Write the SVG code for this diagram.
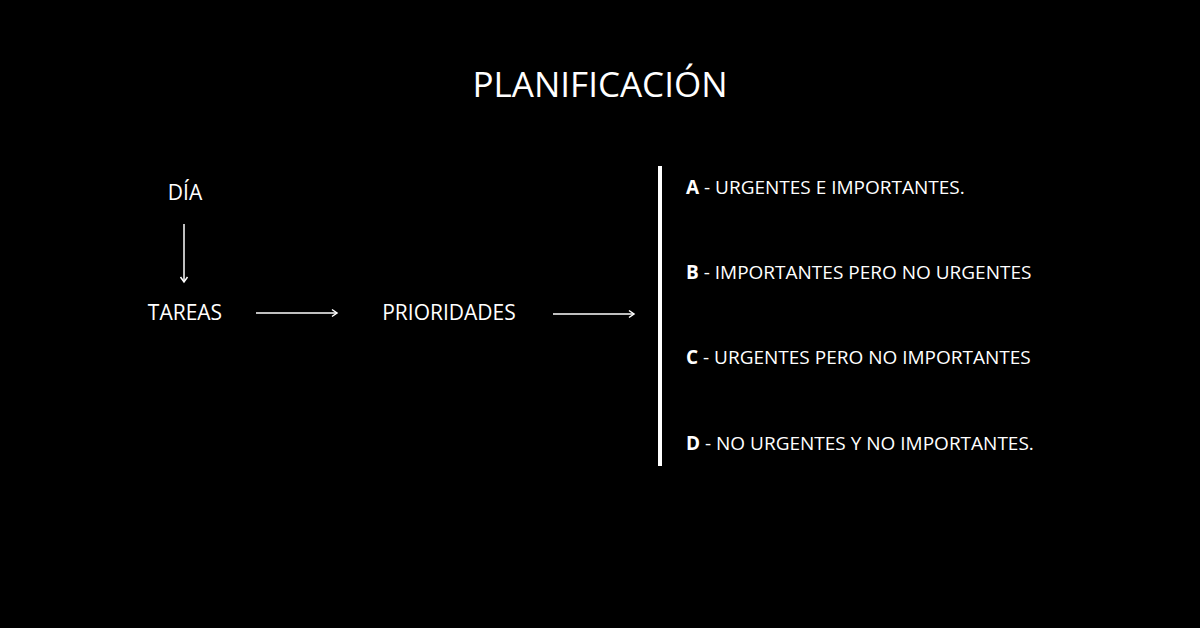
<svg xmlns="http://www.w3.org/2000/svg" width="1200" height="628" viewBox="0 0 1200 628">
<style>
text{fill:#fff;font-family:"Open Sans","Liberation Sans",sans-serif}
.n{font-size:21px}
.l{font-size:19px}
.c{stroke:#fff;stroke-width:1.5;fill:none}
</style>
<defs><marker id="ah" markerWidth="10" markerHeight="10" refX="8" refY="5" orient="auto" markerUnits="userSpaceOnUse"><path d="M3,1.5 L8,5 L3,8.5" fill="none" stroke="#fff" stroke-width="1.5"/></marker></defs>
<rect width="1200" height="628" fill="#000"/>
<g id="title"><text x="600" y="97" font-size="35" text-anchor="middle">PLANIFICACIÓN</text></g>
<g id="dia"><text class="n" x="185" y="200" text-anchor="middle">DÍA</text></g>
<g id="tareas"><text class="n" x="185" y="320" text-anchor="middle">TAREAS</text></g>
<g id="prioridades"><text class="n" x="449" y="320" text-anchor="middle">PRIORIDADES</text></g>
<g id="bar"><rect x="658" y="166" width="4" height="300" fill="#fff"/></g>
<g id="list" class="l">
<text class="l" x="686" y="194"><tspan font-weight="bold">A</tspan> - URGENTES E IMPORTANTES.</text>
<text class="l" x="686" y="279"><tspan font-weight="bold">B</tspan> - IMPORTANTES PERO NO URGENTES</text>
<text class="l" x="686" y="364"><tspan font-weight="bold">C</tspan> - URGENTES PERO NO IMPORTANTES</text>
<text class="l" x="686" y="450"><tspan font-weight="bold">D</tspan> - NO URGENTES Y NO IMPORTANTES.</text>
</g>
<g id="connectors">
<line class="c" x1="184" y1="224" x2="184" y2="282" marker-end="url(#ah)"/>
<line class="c" x1="256" y1="313" x2="337" y2="313" marker-end="url(#ah)"/>
<line class="c" x1="553" y1="314" x2="634" y2="314" marker-end="url(#ah)"/>
</g>
</svg>
